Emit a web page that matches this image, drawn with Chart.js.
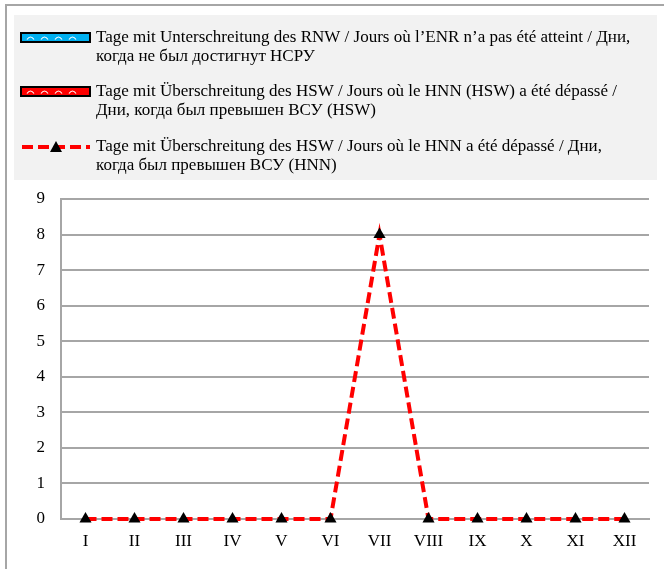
<!DOCTYPE html>
<html>
<head>
<meta charset="utf-8">
<script src="https://cdn.jsdelivr.net/npm/chart.js@4.4.0/dist/chart.umd.min.js"></script>
<style>
html,body{margin:0;padding:0;background:#fff;}
#wrap{position:absolute;left:0;top:0;width:664px;height:569px;}
</style>
</head>
<body>
<div id="wrap"><canvas id="c" width="664" height="569"></canvas></div>
<script>
const months = ['I','II','III','IV','V','VI','VII','VIII','IX','X','XI','XII'];
const rnwDays = [0,0,0,0,0,0,0,0,0,0,0,0];
const hswDays = [0,0,0,0,0,0,0,0,0,0,0,0];
const hnnDays = [0,0,0,0,0,0,8,0,0,0,0,0];
const yTicks = [0,1,2,3,4,5,6,7,8,9];
const labelRnw = ['Tage mit Unterschreitung des RNW / Jours où l\u2019ENR n\u2019a pas été atteint / Дни,', 'когда не был достигнут НСРУ'];
const labelHsw = ['Tage mit Überschreitung des HSW / Jours où le HNN (HSW) a été dépassé /', 'Дни, когда был превышен ВСУ (HSW)'];
const labelHnn = ['Tage mit Überschreitung des HSW / Jours où le HNN a été dépassé / Дни,', 'когда был превышен ВСУ (HNN)'];

const FONT = "'Liberation Serif', 'Times New Roman', serif";

function drawWaves(ctx, x, y, w, h) {
  ctx.save();
  ctx.strokeStyle = '#ffffff';
  ctx.lineWidth = 1.2;
  ctx.beginPath();
  const step = 14;
  for (let px = x + 6; px < x + w - 8; px += step) {
    ctx.moveTo(px, y + h/2 + 2);
    ctx.quadraticCurveTo(px + step/4, y + h/2 - 3, px + step/2, y + h/2 + 2);
  }
  ctx.stroke();
  ctx.restore();
}

const frameAndLegend = {
  id: 'frameAndLegend',
  beforeDraw(chart) {
    const ctx = chart.ctx;
    ctx.save();
    ctx.fillStyle = '#ffffff';
    ctx.fillRect(0, 0, chart.width, chart.height);
    ctx.strokeStyle = '#a6a6a6';
    ctx.lineWidth = 2;
    ctx.strokeRect(6, 5, 700, 600);
    ctx.fillStyle = '#f2f2f2';
    ctx.fillRect(14, 15, 643, 165);
    ctx.restore();
  },
  afterDraw(chart) {
    const ctx = chart.ctx;
    ctx.save();
    const ds = chart.data.datasets;
    const rows = [38, 92, 147];
    ctx.font = '17px ' + FONT;
    ctx.textBaseline = 'middle';
    ds.forEach((d, i) => {
      const y = rows[i];
      const lines = d.legendLines;
      ctx.fillStyle = '#000';
      ctx.fillText(lines[0], 96, y);
      ctx.fillText(lines[1], 96, y + 19);
      if (d.type === 'bar') {
        ctx.fillStyle = d.iconColor;
        ctx.fillRect(21, y - 5, 69, 9);
        drawWaves(ctx, 21, y - 5, 69, 9);
        ctx.strokeStyle = '#000';
        ctx.lineWidth = 2;
        ctx.strokeRect(21, y - 5, 69, 9);
      } else {
        ctx.strokeStyle = d.borderColor;
        ctx.lineWidth = 4;
        ctx.setLineDash([11, 5]);
        ctx.beginPath();
        ctx.moveTo(22, y);
        ctx.lineTo(90, y);
        ctx.stroke();
        ctx.setLineDash([]);
        ctx.fillStyle = '#000';
        ctx.beginPath();
        ctx.moveTo(56, y - 6);
        ctx.lineTo(62, y + 5);
        ctx.lineTo(50, y + 5);
        ctx.closePath();
        ctx.fill();
      }
    });
    ctx.restore();
  }
};

new Chart(document.getElementById('c'), {
  data: {
    labels: months,
    datasets: [
      { type: 'bar', label: labelRnw.join(' '), legendLines: labelRnw, data: rnwDays, backgroundColor: '#00b0f0', iconColor: '#00b0f0', borderWidth: 0, order: 2 },
      { type: 'bar', label: labelHsw.join(' '), legendLines: labelHsw, data: hswDays, backgroundColor: '#ff0000', iconColor: '#ff0000', borderWidth: 0, order: 2 },
      { type: 'line', label: labelHnn.join(' '), legendLines: labelHnn, data: hnnDays, borderColor: '#ff0000', borderWidth: 4, borderDash: [11, 5], tension: 0,
        pointStyle: 'triangle', pointRadius: 7, pointBackgroundColor: '#000', pointBorderColor: '#000', pointBorderWidth: 0, clip: false, order: 1 }
    ]
  },
  options: {
    responsive: false,
    animation: false,
    layout: { padding: { top: 199, left: 0, right: 15, bottom: 0 } },
    plugins: { legend: { display: false }, tooltip: { enabled: false } },
    scales: {
      x: {
        grid: { display: false, drawTicks: false },
        border: { color: '#a6a6a6', width: 2 },
        ticks: { color: '#000', font: { family: FONT, size: 17 }, padding: 12, maxRotation: 0 },
        afterFit(s) { s.height = 50; }
      },
      y: {
        min: 0, max: 9,
        afterBuildTicks(s) { s.ticks = yTicks.map(v => ({ value: v })); },
        grid: { color: '#a6a6a6', lineWidth: 2, drawTicks: false },
        border: { color: '#a6a6a6', width: 2 },
        ticks: { color: '#000', font: { family: FONT, size: 17 }, padding: 16 },
        afterFit(s) { s.width = 61; }
      }
    }
  },
  plugins: [frameAndLegend]
});
</script>
</body>
</html>
